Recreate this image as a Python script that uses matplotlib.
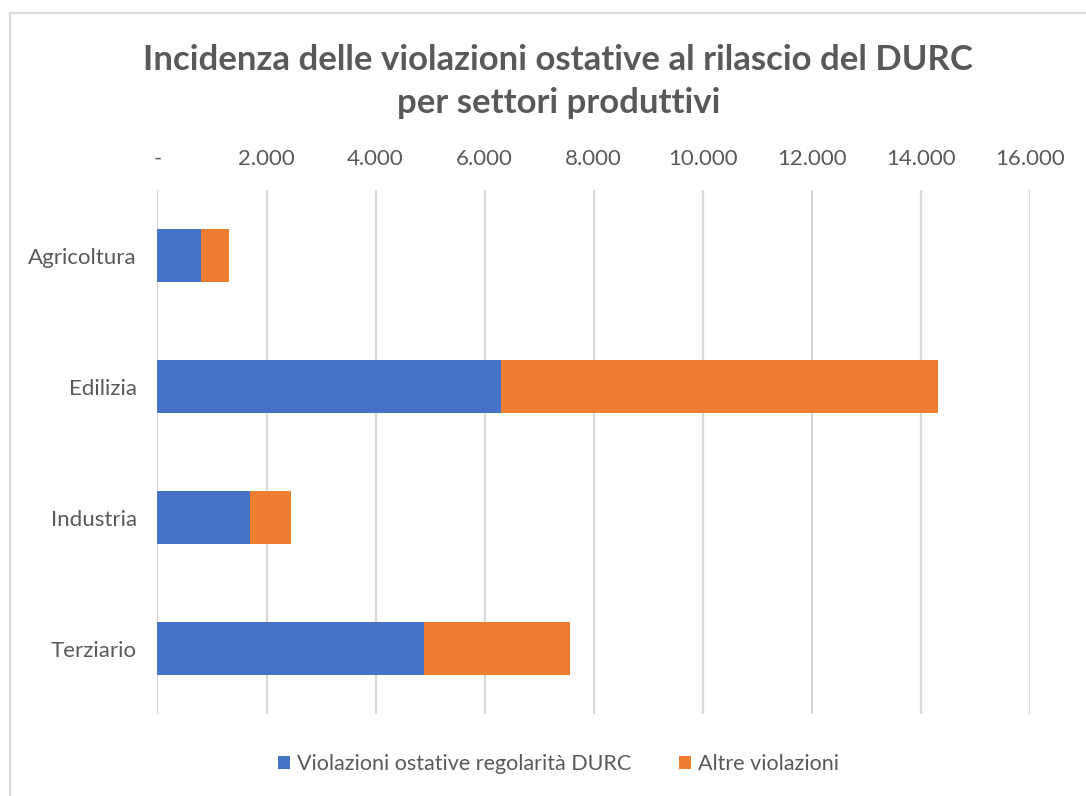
import numpy as np
import matplotlib.pyplot as plt
from matplotlib.lines import Line2D
from matplotlib.ticker import FuncFormatter, MultipleLocator

plt.rcParams['font.family'] = ['Lato', 'DejaVu Sans']

settori = ['Agricoltura', 'Edilizia', 'Industria', 'Terziario']
violazioni_durc = [805, 6296, 1700, 4881]
altre_violazioni = [515, 8026, 754, 2689]
serie_labels = ['Violazioni ostative regolarità DURC', 'Altre violazioni']

blu = '#4472C4'
arancio = '#ED7D31'
grigio = '#595959'
griglia = '#D9D9D9'

fig = plt.figure(figsize=(10.86, 7.96), dpi=100)
ax = fig.add_axes([0.145, 0.103, 0.8034, 0.6583])

y = np.arange(len(settori))
ax.barh(y, violazioni_durc, height=0.4, color=blu, label=serie_labels[0], zorder=3)
ax.barh(y, altre_violazioni, left=violazioni_durc, height=0.4, color=arancio,
        label=serie_labels[1], zorder=3)

ax.set_xlim(0, 16000)
ax.set_ylim(len(settori) - 0.5, -0.5)
ax.set_yticks(y)
ax.set_yticklabels(settori)
ax.xaxis.set_major_locator(MultipleLocator(2000))


def fmt(v, pos):
    if v == 0:
        return '-'
    return f'{int(v):,}'.replace(',', '.')


ax.xaxis.set_major_formatter(FuncFormatter(fmt))
ax.xaxis.tick_top()
ax.tick_params(axis='x', length=0, pad=15, labelsize=16, labelcolor=grigio)
ax.tick_params(axis='y', length=0, pad=15, labelsize=16, labelcolor=grigio)
ax.grid(axis='x', color=griglia, linewidth=1.6, zorder=0)
for s in ax.spines.values():
    s.set_visible(False)

fig.text(0.514, 0.924, 'Incidenza delle violazioni ostative al rilascio del DURC',
         ha='center', va='center', fontsize=25, fontweight='bold', color=grigio)
fig.text(0.514, 0.870, 'per settori produttivi',
         ha='center', va='center', fontsize=25, fontweight='bold', color=grigio)

leg = fig.legend(loc='center', bbox_to_anchor=(0.514, 0.040), ncol=2, frameon=False,
                 fontsize=15.5, handlelength=0.6, handleheight=0.6, handletextpad=0.3,
                 columnspacing=2.2)
for t in leg.get_texts():
    t.set_color(grigio)

# bordo del grafico
fig.add_artist(Line2D([10 / 1086, 1.0], [1 - 13 / 796, 1 - 13 / 796],
                      transform=fig.transFigure, color=griglia, linewidth=1.6))
fig.add_artist(Line2D([10 / 1086, 10 / 1086], [0.0, 1 - 13 / 796],
                      transform=fig.transFigure, color=griglia, linewidth=1.6))

fig.savefig('out.png', dpi=100, facecolor='white')
